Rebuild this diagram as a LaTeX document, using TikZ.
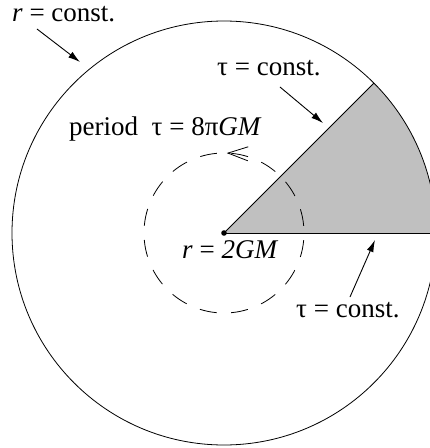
\documentclass[tikz,border=0pt]{standalone}
\usepackage{fontspec}
\setmainfont{Liberation Serif}
\usepackage{tikz}
\usetikzlibrary{arrows.meta,positioning}
\usepackage{xcolor}
\definecolor{ink}    {HTML}{000000}
\definecolor{wedgeGy}{HTML}{C0C0C0}

\tikzset{
  lbl/.style={font=\fontsize{27}{32}\selectfont, inner sep=0pt, anchor=base west, text=ink},
  pointer/.style={-{Latex[length=12pt,width=7pt]}, ink, line width=0.9pt},
}

\begin{document}
\begin{tikzpicture}[x=1pt, y=1pt]
        \def\R{212} \def\rh{80}
        \useasboundingbox (-224,-215) rectangle (206,233);
        \begin{scope}
        \clip (-224,-215) rectangle (206,233);
        % wedge
        \fill[wedgeGy] (0,0) -- (0:\R) arc (0:45:\R) -- cycle;
        \draw[ink, line width=0.8pt] (0,0) circle (\R);
        % limit rays
        \draw[ink, line width=0.8pt] (0,0) -- (0:\R);
        \draw[ink, line width=0.8pt] (0,0) -- (45:\R);
        \end{scope}
        % horizon loop
        \draw[ink, line width=0.8pt, dash pattern=on 17pt off 14.4pt, dash phase=24.2pt]
          (-90:\rh) arc (-90:270:\rh);
        \draw[-{Straight Barb[length=20pt,width=14pt]}, ink, line width=0.8pt]
          (86:\rh) arc (86:88:\rh);
        \fill[ink] (0,0) circle (2.8pt);
        % labels
        \node[lbl] (rconst) at (-212,211.5) {\textit{r} = const.};
        \node[lbl] (tauup)  at (-7,158)     {τ = const.};
        \node[lbl] (period) at (-155,98)    {period\enspace τ = 8π\textit{GM}};
        \node[lbl] (hor)    at (-42,-25)    {\textit{r} = \textit{2GM}};
        \node[lbl] (taulow) at (72,-84)     {τ = const.};
        % pointers
        \coordinate (rtail)  at (-187,204);
        \coordinate (rtip)   at (-144,171);
        \coordinate (uptail) at (56,146);
        \coordinate (uptip)  at (99,110);
        \coordinate (lotail) at (126,-64);
        \coordinate (lotip)  at (151,-7);
        \draw[pointer] (rtail) -- (rtip);
        \draw[pointer] (uptail) -- (uptip);
        \draw[pointer] (lotail) -- (lotip);
      \end{tikzpicture}
\end{document}
